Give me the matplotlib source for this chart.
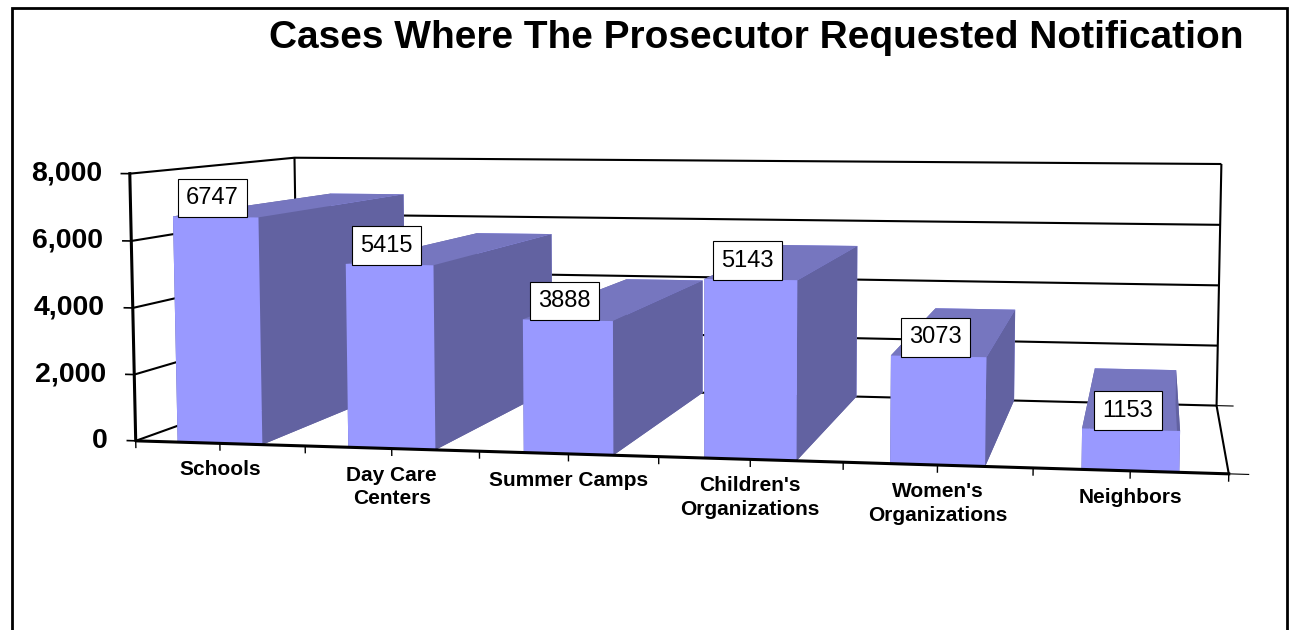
import matplotlib
matplotlib.use('Agg')
import matplotlib.pyplot as plt
from matplotlib.patches import Rectangle
from mpl_toolkits.mplot3d import proj3d

# data
categories = ['Schools', 'Day Care\nCenters', 'Summer Camps',
              "Children's\nOrganizations", "Women's\nOrganizations", 'Neighbors']
values = [6747, 5415, 3888, 5143, 3073, 1153]
yticks = [0, 2000, 4000, 6000, 8000]
ytick_labels = ['0', '2,000', '4,000', '6,000', '8,000']
title = 'Cases Where The Prosecutor Requested Notification'

plt.rcParams['font.family'] = ['Liberation Sans', 'DejaVu Sans']

front_col = '#9999FF'
top_col = '#7676BF'
side_col = '#6262A1'

n = len(categories)
zmax = yticks[-1]

fig = plt.figure(figsize=(12.9, 6.3), dpi=100)
ax = fig.add_axes([0.1050, -0.3715, 0.8574, 1.7556], projection='3d',
                  computed_zorder=False)
ax.set_proj_type('persp', focal_length=0.40)
ax.view_init(elev=5.3, azim=-79.3)
ax.set_box_aspect((6.2, 2.68, 1.55))
ax.set_xlim(0, n, view_margin=0)
ax.set_ylim(0, 1, view_margin=0)
ax.set_zlim(0, zmax, view_margin=0)
ax.set_axis_off()
ax.patch.set_alpha(0)

# walls and gridlines (behind the bars)
wall = dict(color='black', lw=1.5, zorder=1, solid_capstyle='butt',
            clip_on=False)
for t in yticks:
    ax.plot([0, 0, n], [0, 1, 1], [t, t, t], **wall)
ax.plot([0, 0], [1, 1], [0, zmax], **wall)
ax.plot([n, n], [1, 1], [0, zmax], **wall)
ax.plot([n, n], [0, 1], [0, 0], **wall)
ax.plot([n, n + 0.1], [1, 1], [0, 0], color='black', lw=0.8, zorder=1,
        clip_on=False)

# bars: faces are -z, +z, -y, +y, -x, +x
faces = [side_col, top_col, front_col, front_col, side_col, side_col]
ax.bar3d([i + 0.25 for i in range(n)], [0] * n, [0] * n, 0.5, 1, values,
         color=faces * n, shade=False, edgecolor='none', zorder=2)

# front axis lines and ticks
front = dict(color='black', lw=2.2, zorder=7, clip_on=False)
ax.plot([0, 0, n], [0, 0, 0], [zmax, 0, 0], **front)
ax.plot([n, n + 0.1], [0, 0], [0, 0], color='black', lw=0.8, zorder=4,
        clip_on=False)
for t in yticks:
    ax.plot([-0.05, 0], [0, 0], [t, t], color='black', lw=1.2, zorder=4,
            clip_on=False)
for k in range(2 * n + 1):
    ax.plot([k / 2, k / 2], [0, 0], [0, -200], color='black', lw=1.0,
            zorder=4, clip_on=False)

# texts are placed at the projected 3D anchor points
M = ax.get_proj()


def at(x, y, z):
    px, py, _ = proj3d.proj_transform(x, y, z, M)
    return (float(px), float(py))


for t, lab in zip(yticks, ytick_labels):
    ax.annotate(lab, at(0, 0, t), xytext=(-28, 0), textcoords='offset pixels',
                ha='right', va='center', fontsize=20.5, fontweight='bold',
                annotation_clip=False, zorder=5)
for i, c in enumerate(categories):
    ax.annotate(c, at(i + 0.5, 0, 0), xytext=(0, -17),
                textcoords='offset pixels', ha='center', va='top',
                fontsize=15, fontweight='bold', linespacing=1.3,
                annotation_clip=False, zorder=5)
for i, v in enumerate(values):
    ax.annotate(str(v), at(i + 0.5, 0, v), xytext=(-3, 8),
                textcoords='offset pixels', ha='center', va='bottom',
                fontsize=17, annotation_clip=False, zorder=6,
                bbox=dict(boxstyle='square,pad=0.35', fc='white', ec='black',
                          lw=0.8))

fig.text(0.586, 0.94, title, ha='center', va='center', fontsize=28,
         fontweight='bold')
fig.add_artist(Rectangle((12 / 1290, -0.1), 1275 / 1290, 1.087, fill=False,
                         ec='black', lw=2, transform=fig.transFigure))

fig.savefig('out.png', dpi=100, facecolor='white')
